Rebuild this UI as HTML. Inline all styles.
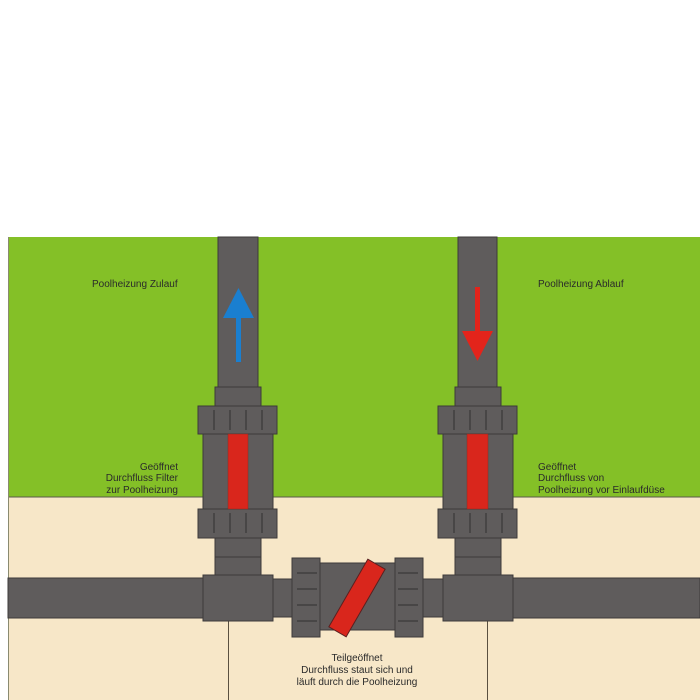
<!DOCTYPE html>
<html><head><meta charset="utf-8"><style>
html,body{margin:0;padding:0;background:#fff;width:700px;height:700px;overflow:hidden}
svg{display:block}
text{font-family:"Liberation Sans",Arial,sans-serif;font-size:10px;fill:#2a2a2a}
</style></head><body>
<svg width="700" height="700" viewBox="0 0 700 700">
<rect x="8" y="237" width="692" height="260" fill="#84c027"/>
<rect x="8" y="497" width="692" height="203" fill="#f7e7c8"/>
<line x1="8" y1="497" x2="700" y2="497" stroke="#5a5a4a" stroke-width="1"/>
<line x1="8.5" y1="237" x2="8.5" y2="700" stroke="#8a8a70" stroke-width="1"/>
<line x1="228.5" y1="620" x2="228.5" y2="700" stroke="#5a5040" stroke-width="1"/>
<line x1="487.5" y1="620" x2="487.5" y2="700" stroke="#5a5040" stroke-width="1"/>
<g fill="#5f5c5c" stroke="#3c3a3a" stroke-width="1">
<rect x="8" y="578" width="196" height="40"/>
<rect x="512" y="578" width="188" height="40"/>
<rect x="272" y="579" width="20" height="38"/>
<rect x="423" y="579" width="20" height="38"/>
<rect x="218" y="237" width="40" height="151"/>
<rect x="215" y="387" width="46" height="19"/>
<rect x="203" y="434" width="70" height="76"/>
<rect x="198" y="406" width="79" height="28"/>
<rect x="198" y="509" width="79" height="29"/>
<rect x="215" y="538" width="46" height="19"/>
<rect x="215" y="557" width="46" height="20"/>
<rect x="203" y="575" width="70" height="46"/>
<rect x="458" y="237" width="39" height="151"/>
<rect x="455" y="387" width="46" height="19"/>
<rect x="443" y="434" width="70" height="76"/>
<rect x="438" y="406" width="79" height="28"/>
<rect x="438" y="509" width="79" height="29"/>
<rect x="455" y="538" width="46" height="19"/>
<rect x="455" y="557" width="46" height="20"/>
<rect x="443" y="575" width="70" height="46"/>
<rect x="320" y="563" width="75" height="67"/>
<rect x="292" y="558" width="28" height="79"/>
<rect x="395" y="558" width="28" height="79"/>
</g>
<g stroke="#3a3838" stroke-width="1.2">
<path d="M214 410v20M230 410v20M246 410v20M262 410v20M214 513v20M230 513v20M246 513v20M262 513v20"/>
<path d="M454 410v20M470 410v20M486 410v20M502 410v20M454 513v20M470 513v20M486 513v20M502 513v20"/>
<path d="M297 573h20M297 589h20M297 605h20M297 621h20M398 573h20M398 589h20M398 605h20M398 621h20"/>
</g>
<rect x="228" y="434" width="20" height="75" fill="#d9261c" stroke="#8a2a20" stroke-width="0.5"/>
<rect x="467" y="434" width="21" height="75" fill="#d9261c" stroke="#8a2a20" stroke-width="0.5"/>
<rect x="347" y="559" width="20" height="78" fill="#d9261c" stroke="#5a2020" stroke-width="1" transform="rotate(30 357 598)"/>
<rect x="236" y="316" width="5" height="46" fill="#1a7fd0"/>
<polygon points="238.5,288 223,318 254,318" fill="#1a7fd0"/>
<rect x="475" y="287" width="5" height="45" fill="#e3241b"/>
<polygon points="477.5,361 462,331 493,331" fill="#e3241b"/>
<text x="92" y="287">Poolheizung Zulauf</text>
<text x="538" y="287">Poolheizung Ablauf</text>
<text x="178" y="470" text-anchor="end">Geöffnet</text>
<text x="178" y="481" text-anchor="end">Durchfluss Filter</text>
<text x="178" y="493" text-anchor="end">zur Poolheizung</text>
<text x="538" y="470">Geöffnet</text>
<text x="538" y="481">Durchfluss von</text>
<text x="538" y="493">Poolheizung vor Einlaufdüse</text>
<text x="357" y="661" text-anchor="middle">Teilgeöffnet</text>
<text x="357" y="673" text-anchor="middle">Durchfluss staut sich und</text>
<text x="357" y="685" text-anchor="middle">läuft durch die Poolheizung</text>
</svg>
</body></html>
